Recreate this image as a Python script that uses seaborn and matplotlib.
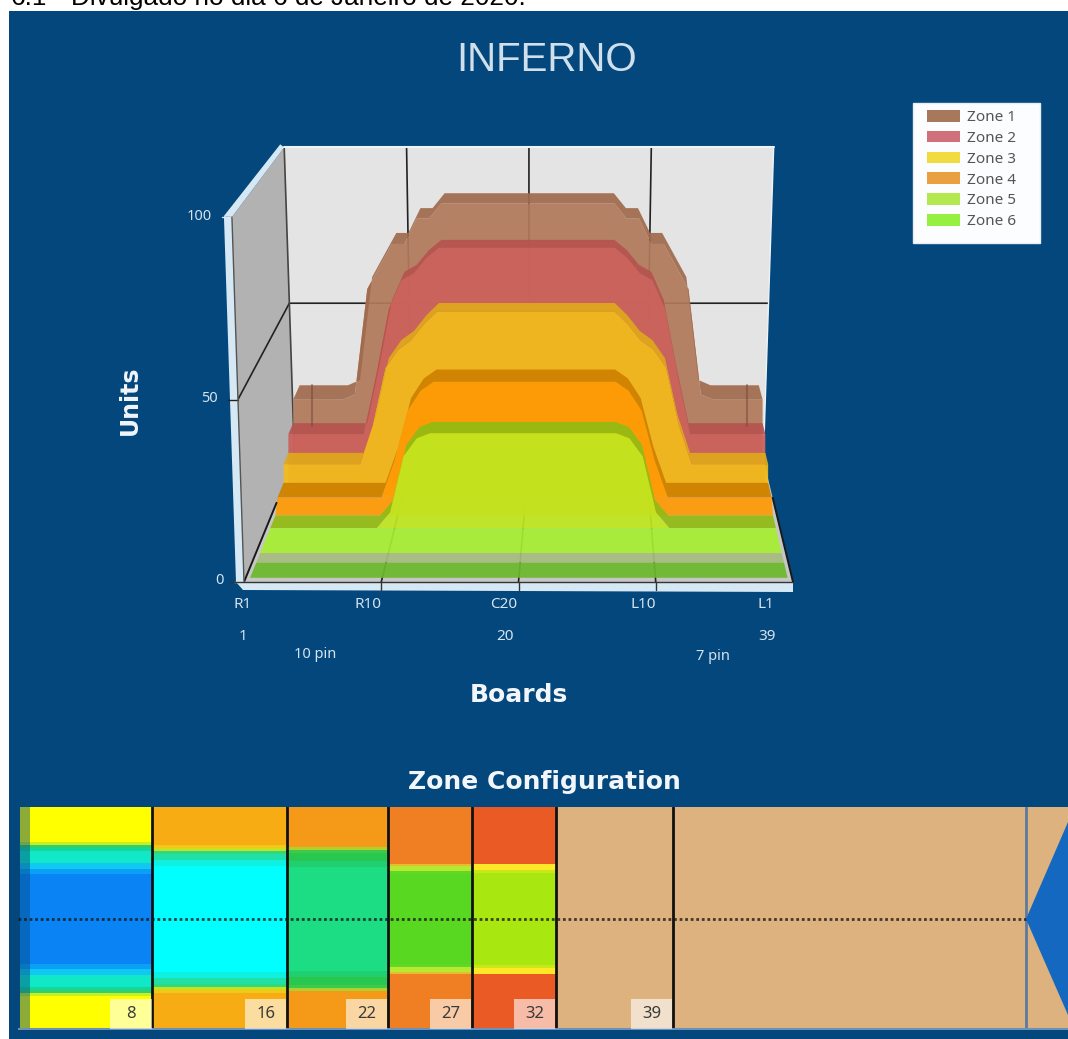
import numpy as np
import matplotlib
matplotlib.use("Agg")
import matplotlib.pyplot as plt
from matplotlib.colors import ListedColormap
from matplotlib.patches import Patch, Rectangle
import seaborn as sns

# ---------- data ----------
boards = list(range(1, 40))
zone1 = [22.7,22.7,22.7,22.7,22.7,24.4,57.6,64.7,71.8,71.8,79.8,79.8,84.6,84.6,84.6,84.6,84.6,84.6,84.6,84.6,
         84.6,84.6,84.6,84.6,84.6,84.6,84.6,79.8,79.8,71.8,71.8,64.7,57.6,24.4,22.7,22.7,22.7,22.7,22.7]
zone2 = [15.3,15.3,15.3,15.3,15.3,15.3,15.3,33.7,54.1,63.0,65.2,69.9,73.1,73.1,73.1,73.1,73.1,73.1,73.1,73.1,
         73.1,73.1,73.1,73.1,73.1,73.1,73.1,69.9,65.2,63.0,54.1,33.7,15.3,15.3,15.3,15.3,15.3,15.3,15.3]
zone3 = [9.5,9.5,9.5,9.5,9.5,9.5,9.5,21.3,38.9,44.5,47.3,52.2,56.0,56.0,56.0,56.0,56.0,56.0,56.0,56.0,
         56.0,56.0,56.0,56.0,56.0,56.0,56.0,52.2,47.3,44.5,38.9,21.3,9.5,9.5,9.5,9.5,9.5,9.5,9.5]
zone4 = [3.8,3.8,3.8,3.8,3.8,3.8,3.8,3.8,3.8,14.8,29.7,35.7,38.4,38.4,38.4,38.4,38.4,38.4,38.4,38.4,
         38.4,38.4,38.4,38.4,38.4,38.4,38.4,35.7,29.7,14.8,3.8,3.8,3.8,3.8,3.8,3.8,3.8,3.8,3.8]
zone5 = [0,0,0,0,0,0,0,0,0,4.6,21.0,26.3,27.8,27.8,27.8,27.8,27.8,27.8,27.8,27.8,
         27.8,27.8,27.8,27.8,27.8,27.8,27.8,26.3,21.0,4.6,0,0,0,0,0,0,0,0,0]
zone6 = [0,0,0,0,0,0,0,0,0,0,0,0,0,0,0,0,0,0,0,0,0,0,0,0,0,0,0,0,0,0,0,0,0,0,0,0,0,0,0]
zone_names = ["Zone 1", "Zone 2", "Zone 3", "Zone 4", "Zone 5", "Zone 6"]

unit_ticks = [0, 50, 100]
board_labels = ["R1", "R10", "C20", "L10", "L1"]
number_labels = ["1", "20", "39"]
pin_labels = ["10 pin", "7 pin"]
section_boards = [8, 8, 6, 5, 5, 7, 21, 2.5]
section_labels = ["8", "16", "22", "27", "32", "39"]

# ---------- styling ----------
NAVY = "#03477C"
face_colors = ["#B17A5B", "#CB615B", "#F2BC1C", "#FF9A05", "#BFE71F", "#A6EE32"]
band_colors = ["#A06B4D", "#B7534F", "#DFA81C", "#CE8100", "#92BB14", "#A6EE32"]
legend_colors = ["#A8785C", "#D0707A", "#F0DC40", "#E8A040", "#B4E850", "#96F040"]
depths = [(.85, .869), (.869, .883), (.883, .897), (.897, .9145), (.921, .936), (.936, .9656)]

# colour bands (rows, colour) of each section, from top edge to centre line
section_bands = [
    [(35, "#FFFF00"), (3, "#C8F020"), (3, "#30D070"), (3, "#14D89A"), (12, "#10E8C8"), (6, "#10C8F0"), (5, "#0AA0F8"), (45, "#0A84F5")],
    [(38, "#F8AC14"), (3, "#F0C818"), (3, "#C8E020"), (3, "#30D880"), (6, "#20E0A8"), (6, "#10F0E0"), (53, "#00FFFF")],
    [(40, "#F59A18"), (3, "#B0D030"), (3, "#40C848"), (8, "#28C850"), (6, "#20D070"), (52, "#1CDC84")],
    [(57, "#EF7F22"), (2, "#E0C030"), (5, "#B8E830"), (3, "#60D828"), (45, "#58D820")],
    [(57, "#EA5A24"), (6, "#FFE828"), (3, "#C8E818"), (46, "#A8E810")],
    [(112, "#DEB27E")],
    [(112, "#DEB27E")],
    [(112, "#DEB27E")],
]

sns.set_theme(style="white")
plt.rcParams["font.family"] = ["Noto Sans", "DejaVu Sans"]

fig = plt.figure(figsize=(10.68, 10.39), dpi=100, facecolor="white")
W, H = 1068, 1039
ax = fig.add_axes([0, 0, 1, 1])
ax.set_xlim(0, W)
ax.set_ylim(H, 0)
ax.axis("off")
ax.add_patch(Rectangle((9, 11), W - 9, H - 11, facecolor=NAVY, edgecolor="none", zorder=0))
ax.text(11, 5, "6.1", family="Liberation Sans", fontsize=18.8, color="black", va="baseline")
ax.text(71, 5, "Divulgado no dia 6 de Janeiro de 2020.", family="Liberation Sans", fontsize=18.8,
        color="black", va="baseline")

# ---------- perspective projection ----------
VPX, VPY = 590, -260
LEFT, WIDTH, FLOOR, SCALE, BACK = 244, 549, 582, 3.65, .854


def proj(board, units, s):
    b = np.asarray(board, float)
    xf = LEFT + WIDTH * (.008 + .984 * (b - 1) / 38)
    yf = FLOOR - SCALE * np.asarray(units, float)
    return VPX + (xf - VPX) * s, VPY + (yf - VPY) * s


def wall(frac, units, s):
    xf = LEFT + WIDTH / 2 + (frac - .5) * WIDTH * (1 + .044 * units / 100)
    yf = FLOOR - SCALE * units
    return VPX + (xf - VPX) * s, VPY + (yf - VPY) * s


def poly(points, **kw):
    xs, ys = zip(*points)
    ax.fill(xs, ys, linewidth=0, **kw)


def seg(points, **kw):
    xs, ys = zip(*points)
    ax.plot(xs, ys, **kw)


# walls and floor
poly([wall(0, 100, BACK), wall(1, 100, BACK), wall(1, 0, BACK), wall(0, 0, BACK)], color="#E4E4E4", zorder=1)
poly([wall(0, 100, 1), wall(0, 100, BACK), wall(0, 0, BACK), wall(0, 0, 1)], color="#B2B2B2", zorder=1)
poly([wall(0, 0, 1), wall(1, 0, 1), wall(1, 0, BACK), wall(0, 0, BACK)], color="#C6C6C6", zorder=1)

# grid
GRID = dict(color="#222222", lw=1.2, zorder=2)
seg([wall(0, 50, 1), wall(0, 50, BACK), wall(1, 50, BACK)], **GRID)
for f in (.25, .5, .75):
    seg([wall(f, 0, 1), wall(f, 0, BACK), wall(f, 100, BACK)], **GRID)
seg([wall(0, 100, BACK), wall(0, 0, BACK)], color="#444444", lw=1.2, zorder=2)
seg([wall(0, 100, BACK), wall(1, 100, BACK)], color="#EEF3F7", lw=1.5, zorder=2)
seg([wall(1, 100, BACK), wall(1, 0, BACK)], color="#EEF3F7", lw=1, zorder=2)

# zones, back to front
series = [zone1, zone2, zone3, zone4, zone5, zone6]
for i, values in enumerate(series):
    s_back, s_front = depths[i]
    s_next = depths[i + 1][0] if i < 5 else s_front
    xb, yb = proj(boards, values, s_back)
    xf, yf = proj(boards, values, s_front)
    z0x, z0y = proj(boards, zone6, s_next)
    ax.fill(np.r_[xf, z0x[::-1]], np.r_[yf, z0y[::-1]], color=face_colors[i], alpha=.93, lw=0, zorder=3 + i)
    ax.fill(np.r_[xb, xf[::-1]], np.r_[yb, yf[::-1]], color=band_colors[i], alpha=.93, lw=0, zorder=3 + i)
    if i == 0:
        # faint drop lines inside the outer plateaus of the rear zone
        for k in (1, 37):
            px0, py0 = proj(boards[k], zone1[k], s_back)
            px1, py1 = proj(boards[k], zone3[k], s_back)
            ax.plot([px0, px1], [py0, py1], color="#7A4A3C", lw=1.5, alpha=.55, zorder=6.5)

# flat strips at the very front of the floor
for (s0, s1), col in (((.9656, .977), "#A8BC80"), ((.977, .995), "#6DB82D")):
    x0, y0 = proj(boards, zone6, s0)
    x1, y1 = proj(boards, zone6, s1)
    ax.fill(np.r_[x0, x1[::-1]], np.r_[y0, y1[::-1]], color=col, alpha=.93, lw=0, zorder=9)

# floor edges
seg([wall(0, 0, 1), wall(0, 0, .906)], color="#1A1A1A", lw=1.4, zorder=9.5)
seg([wall(1, 0, 1), wall(1, 0, .90)], color="#1A1A1A", lw=1.4, zorder=9.5)

# light axis edges
EDGE = "#D6E8F4"
lt, lb = wall(0, 100, 1), wall(0, 0, 1)
rb = wall(1, 0, 1)
poly([(lt[0] - 8, lt[1] - 1), lt, lb, (lb[0] - 8, lb[1])], color=EDGE, zorder=10)
poly([(lb[0] - 8, lb[1]), rb, (rb[0], rb[1] + 10), (lb[0] - 1, lb[1] + 8)], color=EDGE, zorder=10)
bt = wall(0, 100, BACK)
poly([(lt[0] - 8, lt[1] - 1), (bt[0] - 4, bt[1] - 3), bt, lt], color=EDGE, zorder=10)
seg([lt, lb], color="#555555", lw=1, zorder=10.5)
seg([(lb[0] - 14, lb[1]), rb], color="#333333", lw=1, zorder=10.5)
for f in (.25, .5, .75):
    x, y = wall(f, 0, 1)
    ax.plot([x, x], [y, y + 8], color="#333333", lw=1, zorder=10.5)

# tick labels
TICK = "#D5E4EF"
for u in unit_ticks:
    x, y = wall(0, u, 1)
    ax.text(x - 20, y - 1, str(u), color=TICK, fontsize=10.5, ha="right", va="center", zorder=11)
    ax.plot([x - 10, x], [y, y], color="#222222" if u == 50 else EDGE, lw=1, zorder=10)
for lab, x in zip(board_labels, [243, 368, 504, 643, 766]):
    ax.text(x, 605, lab, color=TICK, fontsize=11, ha="center", va="center")
for lab, x in zip(number_labels, [243, 505, 767]):
    ax.text(x, 637, lab, color=TICK, fontsize=11, ha="center", va="center")
for lab, x, y in zip(pin_labels, [315, 713], [655, 657]):
    ax.text(x, y, lab, color=TICK, fontsize=10.5, ha="center", va="center")

# titles
ax.text(547, 60, "INFERNO", family="Liberation Sans", fontsize=29, color="#CFE0EC", ha="center", va="center")
BOLD = dict(family="DejaVu Sans", fontweight="bold", color="#F2F6FA", ha="center", va="center")
ax.text(130, 400, "Units", fontsize=17, rotation=90, **BOLD)
ax.text(519, 695, "Boards", fontsize=18, **BOLD)
ax.text(544, 782, "Zone Configuration", fontsize=18, **BOLD)

# legend
ax.add_patch(Rectangle((913, 103), 127, 140, facecolor="#FBFDFE", edgecolor="#E6EEF4", lw=1, zorder=11))
handles = [Patch(facecolor=c, edgecolor="none", label=n) for c, n in zip(legend_colors, zone_names)]
leg = ax.legend(handles=handles, loc="upper left", bbox_to_anchor=(927, 110), bbox_transform=ax.transData,
                borderaxespad=0, borderpad=0, frameon=False, fontsize=11, handlelength=2.16, handleheight=.8,
                handletextpad=.45, labelspacing=.37, labelcolor="#555555")
leg.set_zorder(12)

# ---------- zone configuration strip (seaborn heatmap) ----------
ROWS = 223
palette = []
for bands in section_bands:
    for _, c in bands:
        if c not in palette:
            palette.append(c)
columns = []
for n, bands in zip(section_boards, section_bands):
    half = []
    for rows, c in bands:
        half += [palette.index(c)] * rows
    col = half + half[::-1]
    col = (col + [col[-1]] * ROWS)[:ROWS]
    columns += [col] * int(n * 2)
matrix = np.array(columns).T

left_px, right_px, top_px, bot_px = 18, W, 807, 1030
hax = fig.add_axes([left_px / W, 1 - bot_px / H, (right_px - left_px) / W, (bot_px - top_px) / H])
sns.heatmap(matrix, ax=hax, cmap=ListedColormap(palette), vmin=-.5, vmax=len(palette) - .5, cbar=False,
            xticklabels=False, yticklabels=False, linewidths=0, rasterized=True)
hax.set_xlabel("")
hax.set_ylabel("")
NC = matrix.shape[1]

edges = np.cumsum(section_boards) * 2
for k, e in enumerate(edges[:-1]):
    hax.axvline(e, color="#111111" if k < 6 else "#5A7BA0", lw=2)
hax.axhline(112, color="#1A1A1A", lw=2, ls=(0, (1, 1)), alpha=.8)
hax.fill([edges[6], NC, NC], [112, 15, 208], color="#1568C0", lw=0, zorder=4)
hax.axvspan(0, 1.43, color=NAVY, alpha=.45, lw=0)
hax.axvspan(0, .24, color=NAVY, lw=0)
hax.axhline(222, color="#6C90B8", lw=1.5)

for lab, e in zip(section_labels, edges):
    hax.add_patch(Rectangle((e - 5, 192), 4.9, 30, facecolor="white", edgecolor="none", alpha=.6, zorder=4))
    hax.text(e - 2.5, 207, lab, color="#3A3A3A", fontsize=12, ha="center", va="center", zorder=5)

fig.savefig("out.png", dpi=100)
